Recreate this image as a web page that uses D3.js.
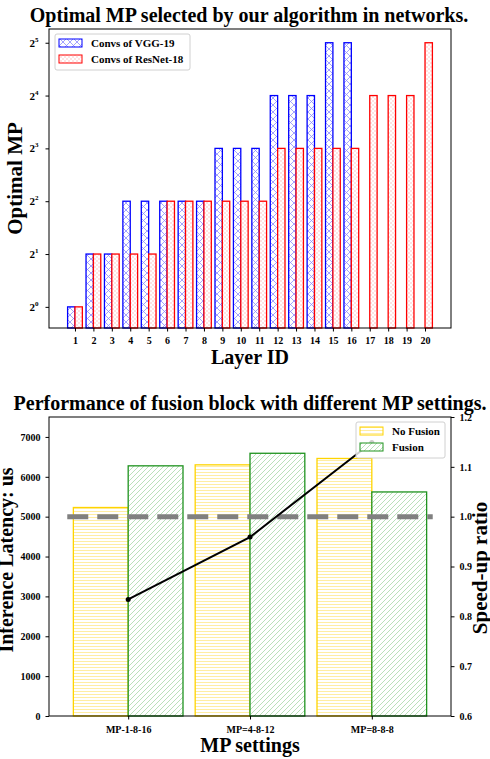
<!DOCTYPE html>
<html>
<head>
<meta charset="utf-8">
<script src="https://cdn.jsdelivr.net/npm/d3@7/dist/d3.min.js"></script>
<style>
  body { margin: 0; background: #fff; }
  text { font-family: "Liberation Serif", "Times New Roman", serif; font-weight: bold; fill: #000; }
</style>
</head>
<body>
<div id="chart"></div>
<script>
// ---- data: top chart (optimal MP per layer) ----
var vggLayers = [1, 2, 3, 4, 5, 6, 7, 8, 9, 10, 11, 12, 13, 14, 15, 16];
var vggMP = [1, 2, 2, 4, 4, 4, 4, 4, 8, 8, 8, 16, 16, 16, 32, 32];
var resLayers = [1, 2, 3, 4, 5, 6, 7, 8, 9, 10, 11, 12, 13, 14, 15, 16, 17, 18, 19, 20];
var resMP = [1, 2, 2, 2, 2, 4, 4, 4, 4, 4, 4, 8, 8, 8, 8, 8, 16, 16, 16, 32];
var topYTicks = [0, 1, 2, 3, 4, 5]; // exponents of 2

// ---- data: bottom chart ----
var mpSettings = ["MP-1-8-16", "MP=4-8-12", "MP=8-8-8"];
var noFusion = [5230, 6300, 6460];
var fusion = [6275, 6590, 5620];
var speedup = [0.834, 0.959, 1.149];
var latencyTicks = [0, 1000, 2000, 3000, 4000, 5000, 6000, 7000];
var ratioTicks = [0.6, 0.7, 0.8, 0.9, 1.0, 1.1, 1.2];

var svgWidth = 490;
var svgHeight = 759;

var svg = d3.select("#chart")
  .append("svg")
  .attr("width", svgWidth)
  .attr("height", svgHeight);

// hatch patterns
var defs = svg.append("defs");

var pX = defs.append("pattern").attr("id", "hatchX")
  .attr("patternUnits", "userSpaceOnUse").attr("width", 7).attr("height", 7);
pX.append("rect").attr("width", 7).attr("height", 7).attr("fill", "#fff");
pX.append("path").attr("d", "M0,0L7,7M7,0L0,7")
  .attr("stroke", "#8c8cff").attr("stroke-width", 0.8);

var pDot = defs.append("pattern").attr("id", "hatchDot")
  .attr("patternUnits", "userSpaceOnUse").attr("width", 4).attr("height", 4);
pDot.append("rect").attr("width", 4).attr("height", 4).attr("fill", "#fff");
pDot.append("circle").attr("cx", 1).attr("cy", 1).attr("r", 0.7).attr("fill", "#ffb0b0");
pDot.append("circle").attr("cx", 3).attr("cy", 3).attr("r", 0.7).attr("fill", "#ffb0b0");

var pH = defs.append("pattern").attr("id", "hatchH")
  .attr("patternUnits", "userSpaceOnUse").attr("width", 4).attr("height", 3);
pH.append("rect").attr("width", 4).attr("height", 3).attr("fill", "#fff");
pH.append("path").attr("d", "M0,1.5L4,1.5")
  .attr("stroke", "#ffe98a").attr("stroke-width", 0.8);

var pD = defs.append("pattern").attr("id", "hatchD")
  .attr("patternUnits", "userSpaceOnUse").attr("width", 5).attr("height", 5);
pD.append("rect").attr("width", 5).attr("height", 5).attr("fill", "#fff");
pD.append("path").attr("d", "M-1,6L6,-1M-1,1L1,-1M4,6L6,4")
  .attr("stroke", "#a8d8a8").attr("stroke-width", 0.8);

// =================== TOP CHART ===================
var top1 = { left: 49, right: 451, top: 29, bottom: 328 };

var xTop = d3.scaleLinear().domain([-0.41, 21.41]).range([top1.left, top1.right]);
var yTop = d3.scaleLog().base(2).domain([Math.pow(2, -0.4), Math.pow(2, 5.26)])
  .range([top1.bottom, top1.top]);

var g1 = svg.append("g");
var barW = 0.4;

g1.selectAll("rect.vgg")
  .data(vggMP)
  .enter()
  .append("rect")
  .attr("class", "vgg")
  .attr("x", (d, i) => xTop(vggLayers[i] - barW))
  .attr("width", xTop(barW) - xTop(0))
  .attr("y", d => yTop(d))
  .attr("height", d => top1.bottom - yTop(d))
  .attr("fill", "url(#hatchX)")
  .attr("stroke", "#0000ff")
  .attr("stroke-width", 1.3);

g1.selectAll("rect.res")
  .data(resMP)
  .enter()
  .append("rect")
  .attr("class", "res")
  .attr("x", (d, i) => xTop(resLayers[i]))
  .attr("width", xTop(barW) - xTop(0))
  .attr("y", d => yTop(d))
  .attr("height", d => top1.bottom - yTop(d))
  .attr("fill", "url(#hatchDot)")
  .attr("stroke", "#ff0000")
  .attr("stroke-width", 1.3);

// axes
var xAxisTop = g1.append("g")
  .attr("transform", `translate(0, ${top1.bottom})`)
  .call(d3.axisBottom(xTop).tickValues(resLayers).tickFormat(d3.format("d")).tickSize(3.5).tickSizeOuter(0));
xAxisTop.selectAll("text").attr("font-size", 10).attr("dy", "0.95em")
  .style("font-family", "Liberation Serif").style("font-weight", "bold");

var yAxisTop = g1.append("g")
  .attr("transform", `translate(${top1.left}, 0)`)
  .call(d3.axisLeft(yTop).tickValues(topYTicks.map(e => Math.pow(2, e))).tickFormat("").tickSize(3.5).tickSizeOuter(0));

// superscript tick labels
topYTicks.forEach(function(e) {
  var t = g1.append("text")
    .attr("x", top1.left - 15)
    .attr("y", yTop(Math.pow(2, e)) + 4)
    .attr("text-anchor", "middle")
    .attr("font-size", 11);
  t.append("tspan").text("2");
  t.append("tspan").attr("font-size", 7).attr("dy", -5).text(e);
});

// frame
g1.selectAll(".domain").remove();
g1.append("rect")
  .attr("x", top1.left).attr("y", top1.top)
  .attr("width", top1.right - top1.left).attr("height", top1.bottom - top1.top)
  .attr("fill", "none").attr("stroke", "#000").attr("stroke-width", 1);

// titles
svg.append("text")
  .attr("x", 249).attr("y", 22)
  .attr("text-anchor", "middle").attr("font-size", 20)
  .text("Optimal MP selected by our algorithm in networks.");

svg.append("text")
  .attr("x", 250).attr("y", 364)
  .attr("text-anchor", "middle").attr("font-size", 20)
  .text("Layer ID");

svg.append("text")
  .attr("transform", `translate(22, ${(top1.top + top1.bottom) / 2}) rotate(-90)`)
  .attr("text-anchor", "middle").attr("font-size", 21)
  .text("Optimal MP");

// legend
var leg1 = g1.append("g");
leg1.append("rect").attr("x", 55).attr("y", 34).attr("width", 135).attr("height", 36)
  .attr("rx", 2).attr("fill", "#fff").attr("fill-opacity", 0.8)
  .attr("stroke", "#d0d0d0");
leg1.append("rect").attr("x", 59).attr("y", 39).attr("width", 23).attr("height", 8)
  .attr("fill", "url(#hatchX)").attr("stroke", "#0000ff").attr("stroke-width", 1);
leg1.append("text").attr("x", 91).attr("y", 47).attr("font-size", 11).text("Convs of VGG-19");
leg1.append("rect").attr("x", 59).attr("y", 55).attr("width", 23).attr("height", 8)
  .attr("fill", "url(#hatchDot)").attr("stroke", "#ff0000").attr("stroke-width", 1);
leg1.append("text").attr("x", 91).attr("y", 63).attr("font-size", 11).text("Convs of ResNet-18");

// =================== BOTTOM CHART ===================
var bot = { left: 49, right: 451, top: 417, bottom: 716 };

var xBot = d3.scaleLinear().domain([-0.65, 2.65]).range([bot.left, bot.right]);
var yBot = d3.scaleLinear().domain([0, 7500]).range([bot.bottom, bot.top]);
var yRatio = d3.scaleLinear().domain([0.6, 1.2]).range([bot.bottom, bot.top]);

var g2 = svg.append("g");
var bw = 0.45;

g2.selectAll("rect.nofusion")
  .data(noFusion)
  .enter()
  .append("rect")
  .attr("class", "nofusion")
  .attr("x", (d, i) => xBot(i - bw))
  .attr("width", xBot(bw) - xBot(0))
  .attr("y", d => yBot(d))
  .attr("height", d => bot.bottom - yBot(d))
  .attr("fill", "url(#hatchH)")
  .attr("stroke", "#ffd400")
  .attr("stroke-width", 1.3);

g2.selectAll("rect.fusion")
  .data(fusion)
  .enter()
  .append("rect")
  .attr("class", "fusion")
  .attr("x", (d, i) => xBot(i))
  .attr("width", xBot(bw) - xBot(0))
  .attr("y", d => yBot(d))
  .attr("height", d => bot.bottom - yBot(d))
  .attr("fill", "url(#hatchD)")
  .attr("stroke", "#1f931f")
  .attr("stroke-width", 1.3);

// dashed baseline at ratio 1.0
g2.append("line")
  .attr("x1", xBot(-0.5)).attr("x2", xBot(2.5))
  .attr("y1", yRatio(1.0)).attr("y2", yRatio(1.0))
  .attr("stroke", "#808080").attr("stroke-width", 5)
  .attr("stroke-dasharray", "21,9");

// speed-up line
var line = d3.line()
  .x((d, i) => xBot(i))
  .y(d => yRatio(d));

g2.append("path")
  .datum(speedup)
  .attr("d", line)
  .attr("fill", "none")
  .attr("stroke", "#000")
  .attr("stroke-width", 2);

g2.selectAll("circle.pt")
  .data(speedup)
  .enter()
  .append("circle")
  .attr("class", "pt")
  .attr("cx", (d, i) => xBot(i))
  .attr("cy", d => yRatio(d))
  .attr("r", 2.5)
  .attr("fill", "#000");

// axes
var xAxisBot = g2.append("g")
  .attr("transform", `translate(0, ${bot.bottom})`)
  .call(d3.axisBottom(xBot).tickValues([0, 1, 2]).tickFormat((d, i) => mpSettings[i]).tickSize(3.5).tickSizeOuter(0));
xAxisBot.selectAll("text").attr("font-size", 10).attr("dy", "1em")
  .style("font-family", "Liberation Serif").style("font-weight", "bold");

var yAxisBot = g2.append("g")
  .attr("transform", `translate(${bot.left}, 0)`)
  .call(d3.axisLeft(yBot).tickValues(latencyTicks).tickFormat(d3.format("d")).tickSize(3.5).tickSizeOuter(0));
yAxisBot.selectAll("text").attr("font-size", 10).attr("dx", "-0.2em")
  .style("font-family", "Liberation Serif").style("font-weight", "bold");

var yAxisRight = g2.append("g")
  .attr("transform", `translate(${bot.right}, 0)`)
  .call(d3.axisRight(yRatio).tickValues(ratioTicks).tickFormat(d3.format(".1f")).tickSize(3.5).tickSizeOuter(0));
yAxisRight.selectAll("text").attr("font-size", 10).attr("dx", "0.2em")
  .style("font-family", "Liberation Serif").style("font-weight", "bold");

g2.selectAll(".domain").remove();
g2.append("rect")
  .attr("x", bot.left).attr("y", bot.top)
  .attr("width", bot.right - bot.left).attr("height", bot.bottom - bot.top)
  .attr("fill", "none").attr("stroke", "#000").attr("stroke-width", 1);

// legend
var leg2 = g2.append("g");
leg2.append("rect").attr("x", 356).attr("y", 422).attr("width", 89).attr("height", 36)
  .attr("rx", 2).attr("fill", "#fff").attr("fill-opacity", 0.8)
  .attr("stroke", "#d0d0d0");
leg2.append("rect").attr("x", 360).attr("y", 427).attr("width", 23).attr("height", 8)
  .attr("fill", "url(#hatchH)").attr("stroke", "#ffd400").attr("stroke-width", 1);
leg2.append("text").attr("x", 392).attr("y", 435).attr("font-size", 11).text("No Fusion");
leg2.append("rect").attr("x", 360).attr("y", 443).attr("width", 23).attr("height", 8)
  .attr("fill", "url(#hatchD)").attr("stroke", "#1f931f").attr("stroke-width", 1);
leg2.append("text").attr("x", 392).attr("y", 451).attr("font-size", 11).text("Fusion");

// titles
svg.append("text")
  .attr("x", 250).attr("y", 410)
  .attr("text-anchor", "middle").attr("font-size", 20)
  .text("Performance of fusion block with different MP settings.");

svg.append("text")
  .attr("x", 250).attr("y", 752)
  .attr("text-anchor", "middle").attr("font-size", 20)
  .text("MP settings");

svg.append("text")
  .attr("transform", `translate(13, 560) rotate(-90)`)
  .attr("text-anchor", "middle").attr("font-size", 20)
  .text("Inference Latency: us");

svg.append("text")
  .attr("transform", `translate(487, 568) rotate(-90)`)
  .attr("text-anchor", "middle").attr("font-size", 21)
  .text("Speed-up ratio");
</script>
</body>
</html>
